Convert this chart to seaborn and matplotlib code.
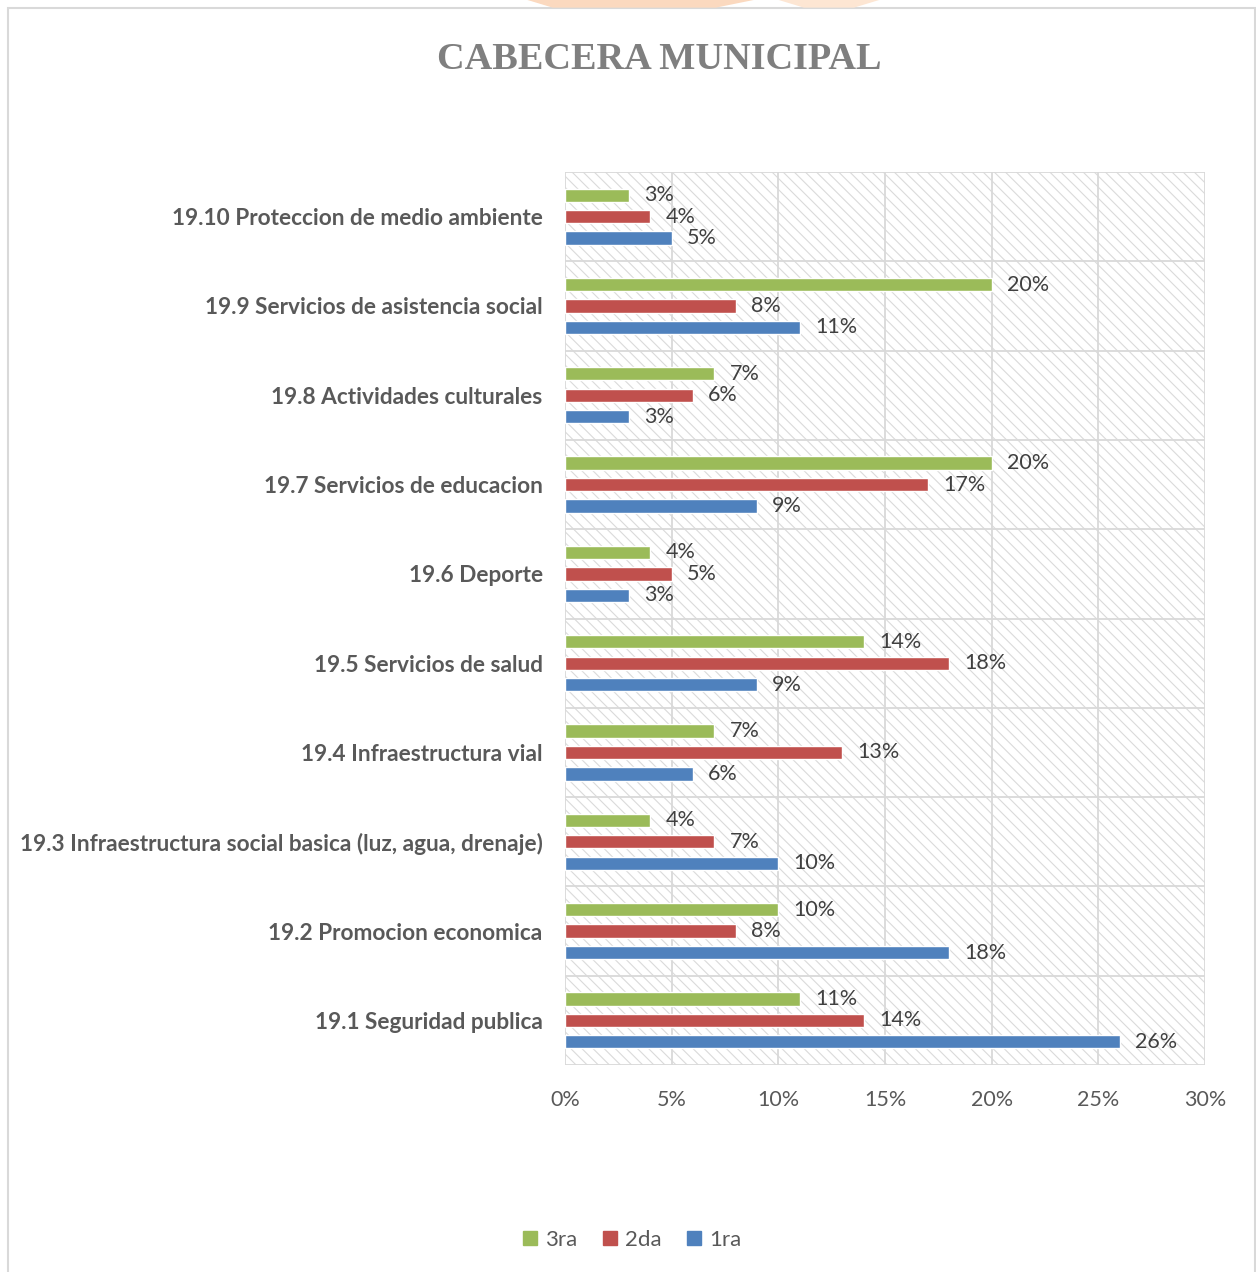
import pandas as pd
import numpy as np

import matplotlib
matplotlib.use("Agg")
import matplotlib.pyplot as plt
import seaborn as sns
from matplotlib.patches import Rectangle, Polygon
from matplotlib.lines import Line2D

# data, top category first
categories = [
    "19.10 Proteccion de medio ambiente",
    "19.9 Servicios de asistencia social",
    "19.8 Actividades culturales",
    "19.7 Servicios de educacion",
    "19.6 Deporte",
    "19.5 Servicios de salud",
    "19.4 Infraestructura vial",
    "19.3 Infraestructura social basica (luz, agua, drenaje)",
    "19.2 Promocion economica",
    "19.1 Seguridad publica",
]
tercera = [3, 20, 7, 20, 4, 14, 7, 4, 10, 11]
segunda = [4, 8, 6, 17, 5, 18, 13, 7, 8, 14]
primera = [5, 11, 3, 9, 3, 9, 6, 10, 18, 26]
series = ["3ra", "2da", "1ra"]
colors = ["#9bbb59", "#c0504d", "#4f81bd"]
xticks = [0, 5, 10, 15, 20, 25, 30]

rows = []
for name, vals in zip(series, [tercera, segunda, primera]):
    for cat, v in zip(categories, vals):
        rows.append({"categoria": cat, "serie": name, "valor": v})
df = pd.DataFrame(rows)

sns.set_theme(style="white")
plt.rcParams["font.family"] = ["Lato", "DejaVu Sans"]
plt.rcParams["hatch.linewidth"] = 0.8

fig = plt.figure(figsize=(12.56, 12.72), dpi=100)
ax = fig.add_axes([0.4498, 0.1627, 0.5096, 0.7021])

# hatched background of the plot area
ax.add_patch(Rectangle((0, 0), 1, 1, transform=ax.transAxes, facecolor="white",
                       edgecolor="#dadada", hatch="\\\\\\", linewidth=0, zorder=0))

sns.barplot(data=df, y="categoria", x="valor", hue="serie", order=categories,
            hue_order=series, palette=colors, orient="h", width=0.72, gap=0.38,
            saturation=1, ax=ax, zorder=3, legend=False)

for cont in ax.containers:
    ax.bar_label(cont, labels=[f"{v:.0f}%" for v in cont.datavalues], padding=11,
                 fontsize=15.5, color="#404040")

ax.set_xlim(0, 30)
ax.set_ylim(len(categories) - 0.5, -0.5)
ax.set_xticks(xticks)
ax.set_xticklabels([f"{t}%" for t in xticks], fontsize=15.5, color="#595959")
ax.set_yticks(range(len(categories)))
ax.set_yticklabels(categories, fontsize=16.3, fontweight="bold", color="#595959")
ax.tick_params(axis="x", length=0, pad=18)
ax.tick_params(axis="y", length=0, pad=16)
ax.set_xlabel("")
ax.set_ylabel("")

# grid lines, vertical at ticks and horizontal between categories
for t in xticks:
    ax.axvline(t, color="#d9d9d9", linewidth=1.3, zorder=1)
for b in np.arange(-0.5, len(categories), 1):
    ax.axhline(b, color="#d9d9d9", linewidth=1.3, zorder=1)
for s in ax.spines.values():
    s.set_visible(False)

# legend with square markers
handles = [Line2D([], [], marker="s", linestyle="none", color=c, markersize=10)
           for c in colors]
leg = fig.legend(handles, series, loc="center", bbox_to_anchor=(0.503, 0.025),
                 ncol=3, frameon=False, fontsize=16, handlelength=0.7,
                 handletextpad=0.35, columnspacing=1.1)
for txt in leg.get_texts():
    txt.set_color("#595959")

fig.text(0.525, 0.953, "CABECERA MUNICIPAL", ha="center", va="center",
         fontsize=27.5, fontweight="bold", color="#7f7f7f",
         family=["Liberation Serif", "DejaVu Serif"])

# outer frame of the chart
fig.patches.append(Rectangle((8 / 1256, -0.01), 1247 / 1256, 1 - 8 / 1272 + 0.01,
                             transform=fig.transFigure, fill=False,
                             edgecolor="#d9d9d9", linewidth=1.5))
# faint orange watermark peeking above the frame
fig.patches.append(Polygon([(0.42, 1.0), (0.60, 1.0), (0.57, 0.994), (0.44, 0.994)],
                           closed=True, transform=fig.transFigure,
                           facecolor="#fbd9bf", edgecolor="none"))
fig.patches.append(Polygon([(0.62, 1.0), (0.70, 1.0), (0.68, 0.994), (0.64, 0.994)],
                           closed=True, transform=fig.transFigure,
                           facecolor="#fde6d3", edgecolor="none"))

fig.savefig("out.png", dpi=100)
